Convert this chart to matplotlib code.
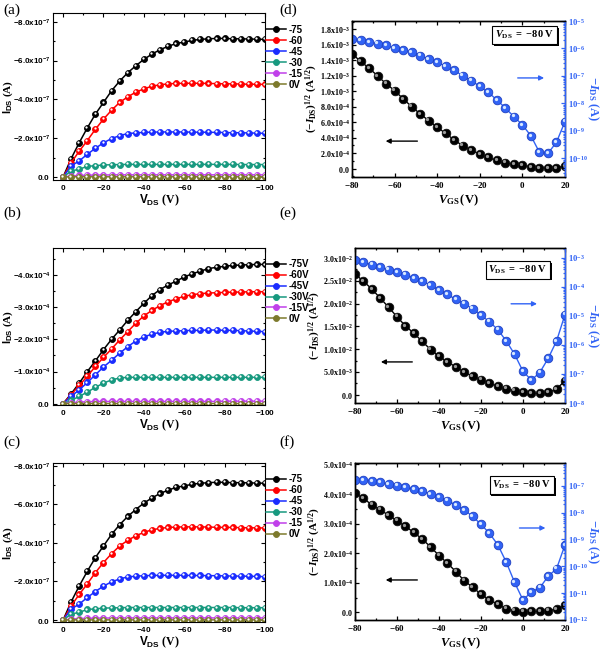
import matplotlib
matplotlib.use('Agg')
import matplotlib.pyplot as plt
import matplotlib.patheffects as pe
from matplotlib.transforms import offset_copy
from matplotlib.ticker import FuncFormatter, MultipleLocator, LogLocator, NullFormatter
import numpy as np

plt.rcParams['mathtext.fontset'] = 'custom'
plt.rcParams['mathtext.rm'] = 'Liberation Serif:bold'
plt.rcParams['mathtext.bf'] = 'Liberation Serif:bold'
plt.rcParams['mathtext.it'] = 'Liberation Serif:italic:bold'
plt.rcParams['mathtext.sf'] = 'Liberation Sans:bold'

# ---- output curves (a), (b), (c) ----
vds = [0, -4, -8, -12, -16, -20, -24, -28, -32, -36, -40, -44, -48, -52,
       -56, -60, -64, -68, -72, -76, -80, -84, -88, -92, -96, -100]

# (a) in units of 1e-7 A
a_75 = [0, -0.95, -1.77, -2.53, -3.24, -3.84, -4.44, -4.94, -5.37, -5.73, -6.06, -6.33, -6.56,
        -6.73, -6.88, -6.95, -7.04, -7.09, -7.12, -7.14, -7.14, -7.12, -7.12, -7.11, -7.10, -7.09]
a_60 = [0, -0.74, -1.33, -1.88, -2.46, -2.98, -3.44, -3.84, -4.13, -4.37, -4.54, -4.68, -4.75,
        -4.80, -4.82, -4.83, -4.83, -4.83, -4.82, -4.81, -4.80, -4.80, -4.79, -4.78, -4.78, -4.77]
a_45 = [0, -0.57, -0.83, -1.17, -1.48, -1.76, -1.98, -2.13, -2.24, -2.27, -2.30, -2.31, -2.32,
        -2.32, -2.32, -2.32, -2.31, -2.31, -2.30, -2.30, -2.29, -2.28, -2.28, -2.27, -2.26, -2.25]
a_30 = [0, -0.31, -0.40, -0.55, -0.58, -0.62, -0.63, -0.64, -0.65, -0.65, -0.65, -0.65, -0.65,
        -0.65, -0.65, -0.65, -0.65, -0.65, -0.65, -0.65, -0.65, -0.65, -0.64, -0.64, -0.64, -0.64]
a_15 = [0, -0.05, -0.08, -0.09, -0.10, -0.10, -0.11, -0.11, -0.11, -0.11, -0.11, -0.11, -0.11,
        -0.11, -0.11, -0.11, -0.11, -0.11, -0.11, -0.11, -0.11, -0.11, -0.11, -0.11, -0.11, -0.11]
a_0 = [0, -0.01, -0.01, -0.01, -0.01, -0.01, -0.01, -0.01, -0.01, -0.01, -0.01, -0.01, -0.01,
       -0.01, -0.01, -0.01, -0.01, -0.01, -0.01, -0.01, -0.01, -0.01, -0.01, -0.01, -0.01, -0.01]

# (b) in units of 1e-4 A
b_75 = [0, -0.31, -0.64, -1.00, -1.33, -1.68, -2.00, -2.29, -2.59, -2.86, -3.12, -3.36, -3.55,
        -3.69, -3.81, -3.94, -4.04, -4.12, -4.20, -4.24, -4.27, -4.30, -4.31, -4.32, -4.33, -4.33]
b_60 = [0, -0.28, -0.57, -0.85, -1.16, -1.44, -1.70, -1.98, -2.24, -2.50, -2.73, -2.90, -3.05,
        -3.17, -3.26, -3.34, -3.39, -3.42, -3.44, -3.45, -3.46, -3.47, -3.47, -3.48, -3.48, -3.48]
b_45 = [0, -0.23, -0.43, -0.66, -0.90, -1.14, -1.35, -1.57, -1.77, -1.95, -2.08, -2.16, -2.22,
        -2.25, -2.26, -2.27, -2.28, -2.28, -2.29, -2.29, -2.28, -2.28, -2.27, -2.26, -2.25, -2.24]
b_30 = [0, -0.10, -0.23, -0.36, -0.51, -0.64, -0.74, -0.80, -0.82, -0.82, -0.82, -0.82, -0.82,
        -0.82, -0.82, -0.82, -0.82, -0.82, -0.82, -0.82, -0.82, -0.82, -0.82, -0.82, -0.82, -0.82]
b_15 = [0, -0.03, -0.05, -0.06, -0.07, -0.07, -0.07, -0.07, -0.07, -0.07, -0.07, -0.07, -0.07,
        -0.07, -0.07, -0.07, -0.07, -0.07, -0.07, -0.07, -0.08, -0.08, -0.08, -0.08, -0.08, -0.08]
b_0 = [0, -0.005, -0.005, -0.005, -0.005, -0.005, -0.005, -0.005, -0.005, -0.005, -0.005, -0.005, -0.005,
       -0.005, -0.005, -0.005, -0.005, -0.005, -0.005, -0.005, -0.005, -0.005, -0.005, -0.005, -0.005, -0.005]

# (c) is the same measurement as (a)
c_75, c_60, c_45, c_30, c_15, c_0 = a_75, a_60, a_45, a_30, a_15, a_0

labels_a = ['-75', '-60', '-45', '-30', '-15', '0V']
labels_b = ['-75V', '-60V', '-45V', '-30V', '-15V', '0V']
out_colors = ['#000000', '#ff0000', '#1a2cff', '#17997f', '#c040ea', '#7d7a2c']

# ---- transfer curves (d), (e), (f) ----
vgs = [-80, -76, -72, -68, -64, -60, -56, -52, -48, -44, -40, -36, -32, -28,
       -24, -20, -16, -12, -8, -4, 0, 4, 8, 12, 16, 20]

# sqrt(-Ids), units 1e-4, 1e-3, 1e-5
d_sqrt = [14.87, 13.88, 13.0, 12.0, 10.97, 10.1, 9.02, 8.02, 7.07, 6.2, 5.33, 4.55, 3.69,
          2.95, 2.39, 1.86, 1.43, 1.04, 0.74, 0.52, 0.39, 0.22, 0.09, 0.04, 0.09, 0.30]
e_sqrt = [26.5, 24.9, 23.2, 21.2, 19.2, 17.1, 15.1, 13.5, 11.7, 9.9, 8.4, 7.2, 6.1,
          5.0, 4.0, 3.3, 2.6, 1.8, 1.3, 0.9, 0.5, 0.3, 0.3, 0.5, 1.2, 3.1]
f_sqrt = [40.4, 38.5, 36.4, 34.7, 32.8, 31.0, 29.1, 27.0, 24.8, 22.1, 19.2, 16.6, 13.8,
          10.7, 8.5, 6.1, 4.2, 2.7, 1.2, 0.6, 0.2, 0.3, 0.3, 0.6, 1.0, 2.5]

# log10(-Ids)
d_log = [-5.65, -5.70, -5.76, -5.82, -5.89, -5.98, -6.05, -6.13, -6.26, -6.38, -6.50, -6.65, -6.80,
         -6.99, -7.17, -7.38, -7.60, -7.87, -8.17, -8.48, -8.78, -9.18, -9.78, -9.82, -9.41, -8.66]
e_log = [-3.08, -3.15, -3.23, -3.31, -3.40, -3.49, -3.58, -3.69, -3.80, -3.94, -4.11, -4.26, -4.43,
         -4.58, -4.75, -4.97, -5.20, -5.47, -5.86, -6.32, -6.91, -7.21, -6.95, -6.46, -5.86, -4.95]
f_log = [-6.78, -6.79, -6.83, -6.88, -6.94, -7.00, -7.06, -7.12, -7.20, -7.31, -7.43, -7.56, -7.72,
         -7.90, -8.14, -8.44, -8.77, -9.20, -9.84, -10.60, -11.26, -10.95, -10.80, -10.37, -10.09, -9.20]

BLUE = '#3163f5'


def sci(style):
    def f(v, pos):
        if abs(v) < 1e-15:
            s = '0.0'
        else:
            e = int(np.floor(np.log10(abs(v)) + 1e-9))
            s = '%.1fx10^{%d}' % (v / 10 ** e, e)
        return r'$\math%s{%s}$' % (style, s)
    return FuncFormatter(f)


def balls(ax, x, y, color, edge, hl, ms, lw=1.0, label=None):
    line, = ax.plot(x, y, '-', color=color, lw=lw, marker='o', ms=ms, mfc=color,
                    mec=edge, mew=0.6, label=label)
    tr = offset_copy(ax.transData, fig=ax.figure, x=-ms * 0.15, y=ms * 0.15, units='points')
    ax.plot(x, y, ls='none', marker='o', ms=ms * 0.38, mfc=hl, mec='none', transform=tr)
    return line


def output_panel(rect, curves, scale, labels, ylim, ymaj, ymin, xlab_y):
    ax = fig.add_axes(rect)
    handles = []
    for ys, c, lab in zip(curves, out_colors, labels):
        h = balls(ax, vds, np.array(ys) * scale, c, c, 'white', 4.3, lw=1.1, label=lab)
        handles.append(h)
    ax.set_xlim(5, -100)
    ax.set_ylim(*ylim)
    ax.xaxis.set_major_locator(MultipleLocator(20))
    ax.xaxis.set_minor_locator(MultipleLocator(10))
    ax.yaxis.set_major_locator(MultipleLocator(ymaj))
    ax.yaxis.set_minor_locator(MultipleLocator(ymin))
    ax.xaxis.set_major_formatter(FuncFormatter(lambda v, p: r'$\mathsf{%d}$' % round(v)))
    ax.yaxis.set_major_formatter(sci('sf'))
    ax.tick_params(which='both', direction='in', top=True, right=True, width=0.8, labelsize=5.8, pad=2)
    ax.tick_params(which='major', length=3)
    ax.tick_params(which='minor', length=1.6)
    for s in ax.spines.values():
        s.set_linewidth(0.8)
    ax.set_xlabel(r'$\mathsf{V_{DS}}\ \mathbf{(V)}$', fontsize=8.5, va='center')
    ax.xaxis.set_label_coords(0.5, xlab_y)
    ax.set_ylabel(r'$\mathsf{I_{DS}}\ \mathbf{(A)}$', fontsize=8, va='center')
    ax.yaxis.set_label_coords(-0.21, 0.5)
    ax.legend(handles=handles, loc='upper left', bbox_to_anchor=(1.005, 0.93), frameon=False,
              prop={'family': 'Liberation Sans', 'weight': 'bold', 'size': 7},
              handlelength=2.0, handletextpad=0.3, labelspacing=0.1, borderaxespad=0,
              borderpad=0)
    return ax


def transfer_panel(rect, sq, sq_scale, lg, ylim, ymaj, ylim2, box_xy, arrow_k, arrow_b):
    ax = fig.add_axes(rect)
    ax2 = ax.twinx()
    balls(ax, vgs, np.array(sq) * sq_scale, 'black', '#111111', '#9a9a9a', 6.2)
    balls(ax2, vgs, 10 ** np.array(lg), BLUE, '#2040c0', '#d8e8ff', 6.2)
    ax.set_xlim(-80, 20)
    ax.set_ylim(*ylim)
    ax2.set_yscale('log')
    ax2.set_ylim(*ylim2)
    ax.xaxis.set_major_locator(MultipleLocator(20))
    ax.xaxis.set_minor_locator(MultipleLocator(10))
    ax.yaxis.set_major_locator(MultipleLocator(ymaj))
    ax.yaxis.set_minor_locator(MultipleLocator(ymaj / 2))
    ax.xaxis.set_major_formatter(FuncFormatter(lambda v, p: r'$\mathbf{%d}$' % round(v)))
    ax.yaxis.set_major_formatter(sci('bf'))
    ax.tick_params(which='both', direction='in', top=True, right=False, width=0.9, labelsize=5.8, pad=1.5)
    ax.tick_params(axis='x', labelsize=6.5, pad=2.5)
    ax.tick_params(which='major', length=3)
    ax.tick_params(which='minor', length=1.6)
    ax2.yaxis.set_major_locator(LogLocator(base=10, numticks=20))
    ax2.yaxis.set_minor_locator(LogLocator(base=10, subs=np.arange(2, 10), numticks=20))
    ax2.yaxis.set_minor_formatter(NullFormatter())
    ax2.yaxis.set_major_formatter(FuncFormatter(lambda v, p: r'$\mathbf{10^{%d}}$' % round(np.log10(v))))
    ax2.tick_params(which='both', direction='in', colors=BLUE, width=0.9, labelsize=6.2, pad=2)
    ax2.tick_params(which='major', length=3)
    ax2.tick_params(which='minor', length=1.5)
    for s in ax.spines.values():
        s.set_linewidth(1.0)
    for s in ax2.spines.values():
        s.set_linewidth(1.0)
    ax2.spines['right'].set_color(BLUE)
    ax.set_xlabel(r'$\mathit{V}_{\mathbf{GS}}\,\mathbf{(V)}$', fontsize=9, va='center')
    ax.xaxis.set_label_coords(0.5, -0.15)
    ax.set_ylabel(r'$\mathbf{(-}\mathit{I}_{\mathbf{DS}}\mathbf{)^{1/2}\ (A^{1/2})}$', fontsize=8, va='center')
    ax.yaxis.set_label_coords(-0.19, 0.5)
    ax2.set_ylabel(r'$\mathbf{-}\mathit{I}_{\mathbf{DS}}\ \mathbf{(A)}$', fontsize=9, color=BLUE,
                   rotation=270, va='center')
    ax2.yaxis.set_label_coords(1.13, 0.5)
    t = ax2.text(box_xy[0], box_xy[1], r'$\mathit{V}_{\mathbf{DS}}\mathbf{\ =\ {-}80\ V}$',
                 transform=ax2.transAxes, ha='center', va='center', fontsize=7.5,
                 bbox=dict(boxstyle='square,pad=0.25', fc='white', ec='black', lw=0.8))
    t.get_bbox_patch().set_path_effects([pe.withSimplePatchShadow(offset=(1.3, -1.3),
                                                                  shadow_rgbFace='black', alpha=1.0)])
    ax2.annotate('', xy=(arrow_k[1], arrow_k[2]), xytext=(arrow_k[0], arrow_k[2]),
                 xycoords='axes fraction',
                 arrowprops=dict(arrowstyle='-|>', color='black', lw=1.0, mutation_scale=7))
    ax2.annotate('', xy=(arrow_b[1], arrow_b[2]), xytext=(arrow_b[0], arrow_b[2]),
                 xycoords='axes fraction',
                 arrowprops=dict(arrowstyle='-|>', color=BLUE, lw=1.0, mutation_scale=7))
    return ax


W, H = 602, 654
fig = plt.figure(figsize=(W / 100, H / 100), dpi=100)


def rect(l, r, t, b):
    return [l / W, 1 - b / H, (r - l) / W, (b - t) / H]


output_panel(rect(53, 265, 13, 180), [a_75, a_60, a_45, a_30, a_15, a_0], 1e-7, labels_a,
             (0.155e-7, -8.45e-7), 2e-7, 1e-7, -0.12)
output_panel(rect(53, 265, 248, 405), [b_75, b_60, b_45, b_30, b_15, b_0], 1e-4, labels_b,
             (0.04e-4, -4.84e-4), 1e-4, 0.5e-4, -0.13)
output_panel(rect(53, 265, 463, 622), [c_75, c_60, c_45, c_30, c_15, c_0], 1e-7, labels_a,
             (0.1e-7, -8.14e-7), 2e-7, 1e-7, -0.13)

transfer_panel(rect(352, 565, 21, 177), d_sqrt, 1e-4, d_log, (-1.1e-4, 1.91e-3), 2e-4,
               (2.1e-11, 1e-5), (0.81, 0.91), (0.32, 0.145, 0.23), (0.765, 0.915, 0.635))
transfer_panel(rect(355, 565, 248, 403), e_sqrt, 1e-3, e_log, (-1.83e-3, 3.22e-2), 5e-3,
               (1e-8, 2.2e-3), (0.776, 0.86), (0.286, 0.11, 0.265), (0.73, 0.88, 0.64))
transfer_panel(rect(355, 565, 463, 620), f_sqrt, 1e-5, f_log, (-0.26e-4, 5.05e-4), 1e-4,
               (1e-12, 7e-7), (0.795, 0.86), (0.31, 0.133, 0.255), (0.77, 0.92, 0.586))

for lab, x, y in [('(a)', 3, 10), ('(d)', 279, 10), ('(b)', 3, 213), ('(e)', 279, 213),
                  ('(c)', 3, 442), ('(f)', 279, 442)]:
    fig.text(x / W, 1 - y / H, lab, fontsize=11, family='Liberation Serif', ha='left', va='center')

fig.savefig('out.png', dpi=100)
